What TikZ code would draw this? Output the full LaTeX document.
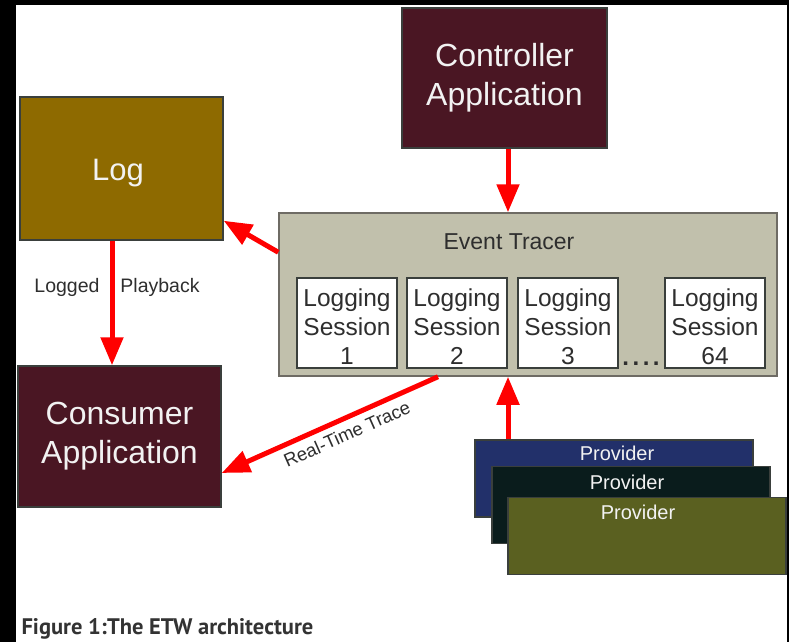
\documentclass[tikz,border=0pt]{standalone}
\usepackage{fontspec}
\setmainfont{Liberation Sans}
\newfontfamily\captionfont{PT Sans}
\usetikzlibrary{arrows.meta,calc}

\definecolor{appfill}{HTML}{4A1623}
\definecolor{logfill}{HTML}{8E6A00}
\definecolor{tracerfill}{HTML}{C1C0AC}
\definecolor{tracerline}{HTML}{6E6B64}
\definecolor{boxline}{HTML}{3A3F3C}
\definecolor{darktext}{HTML}{2E2E2E}
\definecolor{lighttext}{HTML}{F2F2F2}
\definecolor{provA}{HTML}{22306A}
\definecolor{provB}{HTML}{0A1C1C}
\definecolor{provC}{HTML}{5A6020}
\definecolor{captiongray}{HTML}{333333}
\definecolor{arrowred}{HTML}{FF0000}

\begin{document}
\begin{tikzpicture}[x=1pt,y=-1pt,
  box/.style={draw=boxline, line width=1.5pt, inner sep=0pt, align=center},
  appbox/.style={box, fill=appfill, text=lighttext, minimum width=205pt,
    font=\fontsize{32}{39}\selectfont},
  sess/.style={box, fill=white, minimum width=100pt, minimum height=90pt},
  sesstext/.style={text=darktext, align=center, font=\fontsize{24.5}{29}\selectfont},
  prov/.style={box, minimum width=278pt, minimum height=77pt},
  provtext/.style={text=lighttext, font=\fontsize{20}{24}\selectfont},
  note/.style={text=darktext, font=\fontsize{19.5}{23}\selectfont},
  flow/.style={draw=arrowred, line width=5pt, -{Triangle[width=22pt,length=28pt]}},
]
% frame and page
\useasboundingbox (0,0) rectangle (789,642);
\fill[black] (0,0) rectangle (789,642);
\fill[white] (16,5) rectangle (787,642);

% main boxes
\node[appbox, minimum height=140pt] (ctrl) at (504.5,78) {Controller\\Application};
\node[box, fill=logfill, minimum width=203pt, minimum height=143pt] (log) at (121.5,168.5) {};
\node[text=lighttext, font=\fontsize{31}{37}\selectfont] (logtext) at (118,173) {Log};
\node[appbox, minimum width=203pt, minimum height=141pt] (cons) at (119.5,436.5) {Consumer\\Application};

% event tracer with its sessions
\node[box, draw=tracerline, fill=tracerfill, minimum width=498pt, minimum height=163pt] (tracer) at (528,294.5) {};
\node[text=darktext, font=\fontsize{23}{27}\selectfont] (tracertitle) at (509,242) {Event Tracer};
\node[sess] (s1) at (347,323) {};
\node[sess] (s2) at (457,323) {};
\node[sess] (s3) at (568,323) {};
\node[sess] (s64) at (715,323) {};
\node[sesstext] (s1text) at (347,326.5) {Logging\\Session\\1};
\node[sesstext] (s2text) at (457,326.5) {Logging\\Session\\2};
\node[sesstext] (s3text) at (568,326.5) {Logging\\Session\\3};
\node[sesstext] (s64text) at (715,326.5) {Logging\\Session\\64};
\node[text=darktext, font=\bfseries\fontsize{24}{28}\selectfont] (dots) at (641,364) {.\kern3.5pt.\kern3.5pt.\kern3.5pt.};

% providers
\node[prov, fill=provA] (p1) at (614,478.5) {};
\node[provtext] (p1text) at (617,453) {Provider};
\node[prov, fill=provB] (p2) at (631,505) {};
\node[provtext] (p2text) at (627,482) {Provider};
\node[prov, fill=provC] (p3) at (647,536) {};
\node[provtext] (p3text) at (638,512) {Provider};

% connectors
\draw[flow] ([xshift=3.5pt]ctrl.south) -- ([xshift=3.5pt]ctrl.south |- tracer.north);
\draw[flow] ($(tracer.north west)+(0,40)$) -- ([yshift=20pt]log.south east);
\draw[flow] ([xshift=-9.5pt]log.south) -- ([xshift=-9.5pt]log.south |- cons.north);
\draw[flow] ([xshift=-90pt]tracer.south) --
  node[pos=0.45, sloped, below, inner sep=6pt, text=darktext, font=\fontsize{18.5}{22}\selectfont] (rtlabel) {Real-Time Trace}
  ([yshift=-36.5pt]cons.east);
\draw[flow] ([xshift=-106pt]p1.north) -- ([xshift=-106pt]p1.north |- tracer.south);

% labels on the playback path
\node[note] (logged) at (67,287) {Logged};
\node[note] (playback) at (160,287) {Playback};

% caption
\node[anchor=west, text=captiongray, font=\captionfont\bfseries\fontsize{22.5}{26}\selectfont] (caption) at (18,629) {Figure 1:The ETW architecture};
\end{tikzpicture}
\end{document}
